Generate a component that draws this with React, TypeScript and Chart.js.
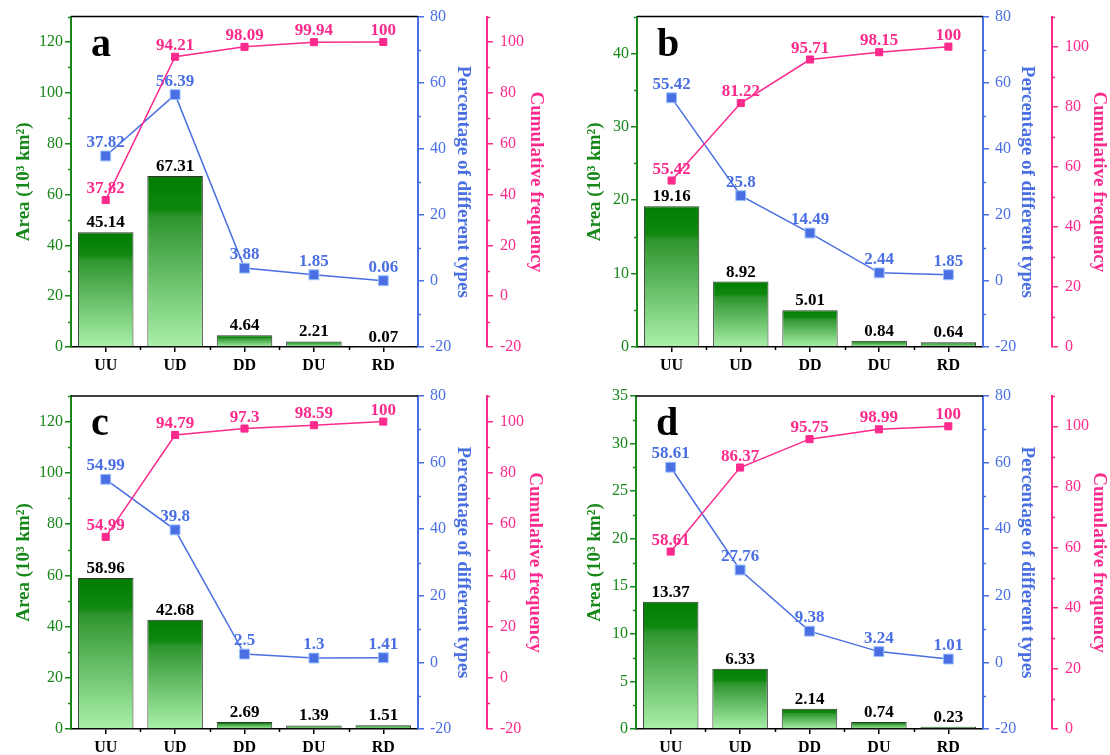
import React, { useEffect, useRef } from 'react';
import { Chart, registerables } from 'chart.js';

Chart.register(...registerables);

const FONT = '"Liberation Serif", "Times New Roman", serif';
Chart.defaults.font.family = FONT;

// ---------- data ----------
const categories = ['UU', 'UD', 'DD', 'DU', 'RD'];

const areaA = [45.14, 67.31, 4.64, 2.21, 0.07];
const percentA = [37.82, 56.39, 3.88, 1.85, 0.06];
const cumulativeA = [37.82, 94.21, 98.09, 99.94, 100];

const areaB = [19.16, 8.92, 5.01, 0.84, 0.64];
const percentB = [55.42, 25.8, 14.49, 2.44, 1.85];
const cumulativeB = [55.42, 81.22, 95.71, 98.15, 100];

const areaC = [58.96, 42.68, 2.69, 1.39, 1.51];
const percentC = [54.99, 39.8, 2.5, 1.3, 1.41];
const cumulativeC = [54.99, 94.79, 97.3, 98.59, 100];

const areaD = [13.37, 6.33, 2.14, 0.74, 0.23];
const percentD = [58.61, 27.76, 9.38, 3.24, 1.01];
const cumulativeD = [58.61, 86.37, 95.75, 98.99, 100];

const areaTitle = 'Area (10³ km²)';
const percentTitle = 'Percentage of different types';
const cumulativeTitle = 'Cumulative frequency';

// ---------- styles ----------
const GREEN = '#17871a';
const BLUE = '#4a6fe3';
const PINK = '#fb2a8c';

interface PanelCfg {
  letter: string;
  area: number[];
  percent: number[];
  cumulative: number[];
  areaMax: number;
  areaStep: number;
  cumMin: number;
  left: number;
  top: number;
  width: number;
  height: number;
  yW: number;
  y1W: number;
  y2W: number;
  padTop: number;
  xH: number;
  tPadY: number;
  tPadY1: number;
  tPadY2: number;
}

const panels: PanelCfg[] = [
  { letter: 'a', area: areaA, percent: percentA, cumulative: cumulativeA, areaMax: 130, areaStep: 20, cumMin: -20,
    left: 0, top: 0, width: 555, height: 377, yW: 71, y1W: 69, y2W: 68, padTop: 14, xH: 30, tPadY: 13, tPadY1: 13, tPadY2: 8 },
  { letter: 'b', area: areaB, percent: percentB, cumulative: cumulativeB, areaMax: 45, areaStep: 10, cumMin: 0,
    left: 555, top: 0, width: 555, height: 377, yW: 82, y1W: 69, y2W: 58, padTop: 14, xH: 30, tPadY: 29, tPadY1: 14, tPadY2: 0 },
  { letter: 'c', area: areaC, percent: percentC, cumulative: cumulativeC, areaMax: 130, areaStep: 20, cumMin: -20,
    left: 0, top: 377, width: 555, height: 378, yW: 71, y1W: 69, y2W: 68, padTop: 19, xH: 26, tPadY: 13, tPadY1: 13, tPadY2: 9 },
  { letter: 'd', area: areaD, percent: percentD, cumulative: cumulativeD, areaMax: 35, areaStep: 5, cumMin: 0,
    left: 555, top: 377, width: 555, height: 378, yW: 81, y1W: 69, y2W: 58, padTop: 19, xH: 26, tPadY: 29, tPadY1: 14, tPadY2: 0 },
];

// ---------- plugins ----------
const valueLabels = {
  id: 'valueLabels',
  beforeDatasetsDraw(chart: any, _args: any, opts: any) {
    const ctx = chart.ctx;
    chart.data.datasets.forEach((ds: any, di: number) => {
      const meta = chart.getDatasetMeta(di);
      ctx.save();
      ctx.font = `bold 17px ${FONT}`;
      ctx.fillStyle = opts.colors[di];
      ctx.textAlign = 'center';
      ctx.textBaseline = 'alphabetic';
      meta.data.forEach((el: any, i: number) => {
        ctx.fillText(String(ds.data[i]), el.x, el.y - opts.offsets[di]);
      });
      ctx.restore();
    });
  },
};

const axesDecor = {
  id: 'axesDecor',
  afterDraw(chart: any, _args: any, opts: any) {
    const { ctx, chartArea } = chart;
    ctx.save();
    // top frame line
    ctx.strokeStyle = '#000';
    ctx.lineWidth = 1.5;
    ctx.beginPath();
    ctx.moveTo(chartArea.left, chartArea.top);
    ctx.lineTo(chartArea.right, chartArea.top);
    ctx.stroke();
    // minor ticks on value axes
    ['y', 'y1', 'y2'].forEach((id) => {
      const s = chart.scales[id];
      const step = s.options.ticks.stepSize;
      const half = step / 2;
      ctx.strokeStyle = s.options.grid.color;
      ctx.lineWidth = 1.5;
      const first = Math.ceil(s.min / step) * step;
      for (let v = first - half; v <= s.max + 1e-9; v += step) {
        if (v < s.min - 1e-9) continue;
        const py = Math.round(s.getPixelForValue(v)) + 0.5;
        ctx.beginPath();
        if (s.position === 'left') {
          ctx.moveTo(s.right, py);
          ctx.lineTo(s.right - 3, py);
        } else {
          ctx.moveTo(s.left, py);
          ctx.lineTo(s.left + 3, py);
        }
        ctx.stroke();
      }
    });
    // minor ticks on category axis (boundaries)
    const x = chart.scales.x;
    ctx.strokeStyle = '#000';
    for (let i = 0; i < x.ticks.length - 1; i++) {
      const px = Math.round((x.getPixelForTick(i) + x.getPixelForTick(i + 1)) / 2) + 0.5;
      ctx.beginPath();
      ctx.moveTo(px, x.top);
      ctx.lineTo(px, x.top + 3);
      ctx.stroke();
    }
    // panel letter
    ctx.fillStyle = '#000';
    ctx.font = `bold 40px ${FONT}`;
    ctx.textAlign = 'left';
    ctx.textBaseline = 'alphabetic';
    ctx.fillText(opts.letter, chartArea.left + 20, chartArea.top + 39);
    ctx.restore();
  },
};

function barGradient(c: any) {
  const chart = c.chart;
  if (c.type !== 'data' || !chart.chartArea) return '#008000';
  const y = chart.scales.y;
  const topPx = y.getPixelForValue(c.raw);
  const bottomPx = y.getPixelForValue(0);
  if (!isFinite(topPx) || bottomPx - topPx < 1) return '#008000';
  const g = chart.ctx.createLinearGradient(0, topPx, 0, bottomPx);
  g.addColorStop(0, '#007d00');
  g.addColorStop(0.2, '#108810');
  g.addColorStop(0.24, '#2e952e');
  g.addColorStop(1, '#aaf0aa');
  return g;
}

function valueAxis(color: string, min: number, max: number, step: number, width: number,
  position: string, title: string, titlePad: number, weight: number, labelPad: number) {
  return {
    type: 'linear',
    position,
    weight,
    min,
    max,
    bounds: 'data',
    afterBuildTicks: (s: any) => {
      s.ticks = s.ticks.filter((t: any) => Math.abs(t.value / step - Math.round(t.value / step)) < 1e-6);
    },
    afterFit: (s: any) => { s.width = width; },
    ticks: {
      stepSize: step,
      includeBounds: false,
      color,
      padding: labelPad,
      font: { size: 16, family: FONT },
    },
    grid: { drawOnChartArea: false, drawTicks: true, tickLength: 6, color, lineWidth: 1.5 },
    border: { display: true, color, width: 2 },
    title: {
      display: true,
      text: title,
      color,
      font: { size: 19, weight: 'bold', family: FONT },
      padding: { top: titlePad, bottom: 0 },
    },
  };
}

function Panel({ cfg }: { cfg: PanelCfg }) {
  const ref = useRef<HTMLCanvasElement>(null);
  useEffect(() => {
    if (!ref.current) return;
    const chart = new Chart(ref.current, {
      type: 'bar',
      data: {
        labels: categories,
        datasets: [
          {
            type: 'bar',
            data: cfg.area,
            yAxisID: 'y',
            backgroundColor: barGradient,
            borderColor: '#333333',
            borderWidth: 1,
            barPercentage: 0.8,
            categoryPercentage: 1,
            order: 3,
          },
          {
            type: 'line',
            data: cfg.percent,
            yAxisID: 'y1',
            borderColor: BLUE,
            borderWidth: 1.5,
            pointStyle: 'rect',
            pointRadius: 7,
            pointBackgroundColor: BLUE,
            pointBorderColor: '#9cc3ff',
            pointBorderWidth: 1,
            order: 2,
          },
          {
            type: 'line',
            data: cfg.cumulative,
            yAxisID: 'y2',
            borderColor: PINK,
            borderWidth: 1.5,
            pointStyle: 'rect',
            pointRadius: 5,
            pointBackgroundColor: PINK,
            pointBorderColor: PINK,
            pointBorderWidth: 1,
            order: 1,
          },
        ],
      } as any,
      options: {
        responsive: false,
        animation: false,
        events: [],
        layout: { padding: { top: cfg.padTop, left: 0, right: 0, bottom: 0 } },
        plugins: {
          legend: { display: false },
          tooltip: { enabled: false },
          valueLabels: { colors: ['#000000', BLUE, PINK], offsets: [5, 9, 7] },
          axesDecor: { letter: cfg.letter },
        } as any,
        scales: {
          x: {
            type: 'category',
            offset: true,
            afterFit: (s: any) => { s.height = cfg.xH; },
            grid: { offset: false, drawOnChartArea: false, drawTicks: true, tickLength: 5, color: '#000', lineWidth: 1.5 },
            border: { display: true, color: '#000', width: 1.5 },
            ticks: { color: '#000', padding: 4, font: { size: 16, weight: 'bold', family: FONT } },
          },
          y: valueAxis(GREEN, 0, cfg.areaMax, cfg.areaStep, cfg.yW, 'left', areaTitle, cfg.tPadY, 0, 2),
          y1: valueAxis(BLUE, -20, 80, 20, cfg.y1W, 'right', percentTitle, cfg.tPadY1, 0, 6),
          y2: valueAxis(PINK, cfg.cumMin, 110, 20, cfg.y2W, 'right', cumulativeTitle, cfg.tPadY2, 1, 7),
        } as any,
      },
      plugins: [valueLabels, axesDecor],
    });
    return () => chart.destroy();
  }, [cfg]);
  return (
    <canvas
      ref={ref}
      width={cfg.width}
      height={cfg.height}
      style={{ position: 'absolute', left: cfg.left, top: cfg.top, width: cfg.width, height: cfg.height, display: 'block' }}
    />
  );
}

export default function App() {
  return (
    <div style={{ position: 'absolute', left: 0, top: 0, width: 1110, height: 755, background: '#fff', overflow: 'hidden' }}>
      {panels.map((p) => (
        <Panel key={p.letter} cfg={p} />
      ))}
    </div>
  );
}
